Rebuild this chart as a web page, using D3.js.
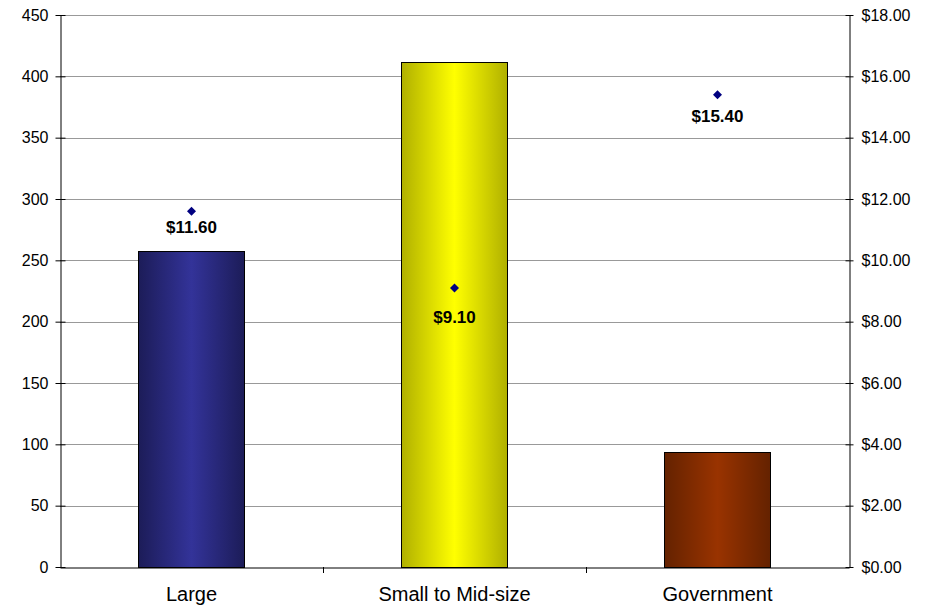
<!DOCTYPE html>
<html>
<head>
<meta charset="utf-8">
<script src="https://cdn.jsdelivr.net/npm/d3@7"></script>
<style>
  html, body { margin: 0; padding: 0; background: #fff; }
  svg { display: block; font-family: Arial, "Liberation Sans", sans-serif; }
</style>
</head>
<body>
<svg id="chart" width="926" height="605"></svg>
<script>
// Segments, counts (left axis) and price per unit (right axis)
const categories = ["Large", "Small to Mid-size", "Government"];
const counts = [258, 412, 94];
const prices = [11.60, 9.10, 15.40];
const countTicks = [0, 50, 100, 150, 200, 250, 300, 350, 400, 450];
const priceTicks = [0, 2, 4, 6, 8, 10, 12, 14, 16, 18];
const barColors = [
  { edge: "#1c1c58", mid: "#333399" },
  { edge: "#b0b000", mid: "#ffff00" },
  { edge: "#642200", mid: "#993300" }
];
// Vertical distance from each marker to the baseline of its price label
const labelDy = [22, 35, 27];

const FONT = "Arial, 'Liberation Sans', sans-serif";
const svg = d3.select("#chart");
const m = { left: 60, right: 849, top: 15, bottom: 567 };

const x = d3.scaleBand().domain(categories).range([m.left, m.right]).paddingInner(0).paddingOuter(0);
const yL = d3.scaleLinear().domain([0, 450]).range([m.bottom, m.top]);
const yR = d3.scaleLinear().domain([0, 18]).range([m.bottom, m.top]);

// Horizontal gradients for the bars
const defs = svg.append("defs");
barColors.forEach((c, i) => {
  const g = defs.append("linearGradient").attr("id", "g" + i)
    .attr("x1", "0%").attr("x2", "100%").attr("y1", "0%").attr("y2", "0%");
  g.append("stop").attr("offset", "0%").attr("stop-color", c.edge);
  g.append("stop").attr("offset", "50%").attr("stop-color", c.mid);
  g.append("stop").attr("offset", "100%").attr("stop-color", c.edge);
});

// Gridlines
svg.append("g").selectAll("line").data(countTicks.filter(d => d > 0)).join("line")
  .attr("x1", m.left).attr("x2", m.right)
  .attr("y1", d => Math.round(yL(d)) + 0.5).attr("y2", d => Math.round(yL(d)) + 0.5)
  .attr("stroke", "#999").attr("stroke-width", 1);

// Bars
const barW = 106;
svg.append("g").selectAll("rect").data(categories).join("rect")
  .attr("x", (d) => Math.round(x(d) + x.bandwidth() / 2 - barW / 2) - 0.5)
  .attr("y", (d, i) => Math.round(yL(counts[i])) + 0.5)
  .attr("width", barW)
  .attr("height", (d, i) => Math.round(yL(0)) - Math.round(yL(counts[i])))
  .attr("fill", (d, i) => `url(#g${i})`)
  .attr("stroke", "#000").attr("stroke-width", 1);

// Left axis
const axL = svg.append("g").attr("transform", `translate(${m.left + 0.5},0)`)
  .call(d3.axisLeft(yL).tickValues(countTicks).tickSize(5).tickSizeOuter(0).tickPadding(7));
axL.selectAll(".tick line").attr("x1", 5);
// Right axis
const axR = svg.append("g").attr("transform", `translate(${m.right + 0.5},0)`)
  .call(d3.axisRight(yR).tickValues(priceTicks).tickSize(4).tickSizeOuter(0).tickPadding(8)
    .tickFormat(d => "$" + d3.format(".2f")(d)));
axR.selectAll(".tick line").attr("x1", -4);
// Bottom axis
const axB = svg.append("g").attr("transform", `translate(0,${m.bottom + 0.5})`)
  .call(d3.axisBottom(x).tickSize(0).tickSizeOuter(0).tickPadding(19));
svg.append("g").selectAll("line").data(categories.slice(1)).join("line")
  .attr("x1", d => Math.round(x(d)) + 0.5).attr("x2", d => Math.round(x(d)) + 0.5)
  .attr("y1", m.bottom).attr("y2", m.bottom + 6)
  .attr("stroke", "#000");

[axL, axR, axB].forEach(a => {
  a.select(".domain").attr("stroke", "#000");
  a.selectAll(".tick line").attr("stroke", "#000");
  a.selectAll("text").attr("fill", "#000").attr("font-family", FONT);
});
axL.selectAll("text").attr("font-size", 16);
axR.selectAll("text").attr("font-size", 16);
axB.selectAll("text").attr("font-size", 20);

// Price markers
const pts = svg.append("g");
const diamond = "M0,-4.5L4.5,0L0,4.5L-4.5,0Z";
pts.selectAll("path").data(categories).join("path")
  .attr("d", diamond)
  .attr("transform", (d, i) => `translate(${x(d) + x.bandwidth() / 2},${yR(prices[i])})`)
  .attr("fill", "#000080");
pts.selectAll("text").data(categories).join("text")
  .attr("x", d => x(d) + x.bandwidth() / 2)
  .attr("y", (d, i) => yR(prices[i]) + labelDy[i])
  .attr("text-anchor", "middle")
  .attr("font-family", FONT)
  .attr("font-size", 17).attr("font-weight", "bold")
  .text((d, i) => "$" + d3.format(".2f")(prices[i]));
</script>
</body>
</html>
